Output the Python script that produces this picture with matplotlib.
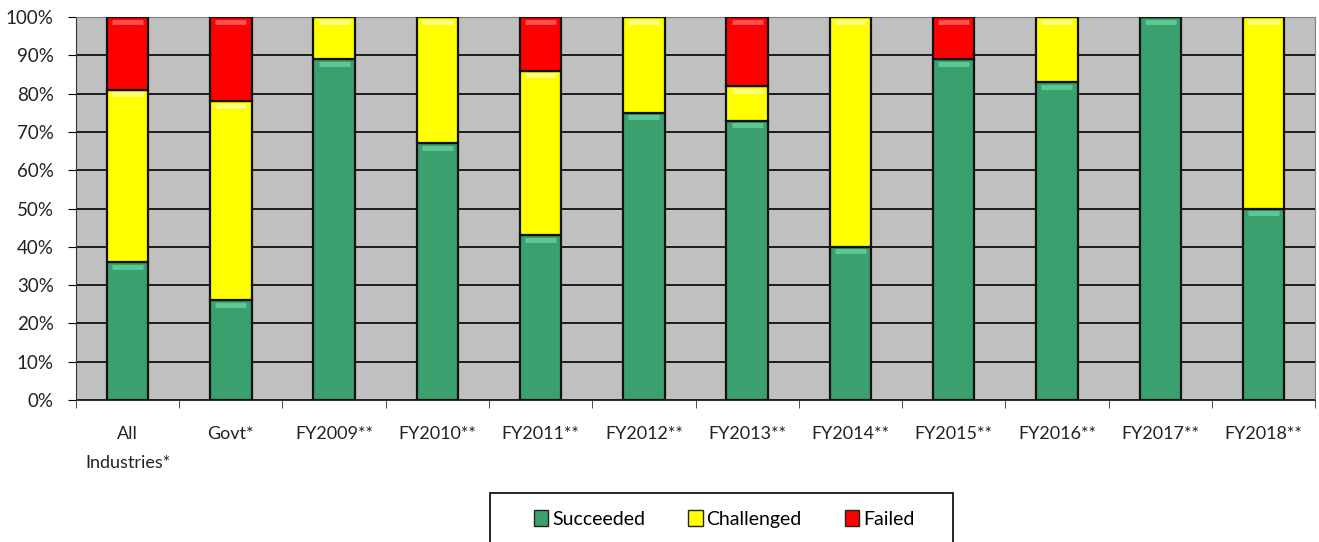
import numpy as np
import matplotlib
matplotlib.use("Agg")
import matplotlib.pyplot as plt
from matplotlib.ticker import MultipleLocator, PercentFormatter
from matplotlib.patches import Patch, Rectangle

# data (percent of projects)
categories = ["All\nIndustries*", "Govt*", "FY2009**", "FY2010**", "FY2011**", "FY2012**",
              "FY2013**", "FY2014**", "FY2015**", "FY2016**", "FY2017**", "FY2018**"]
succeeded = [36, 26, 89, 67, 43, 75, 73, 40, 89, 83, 100, 50]
challenged = [45, 52, 11, 33, 43, 25, 9, 60, 0, 17, 0, 50]
failed = [19, 22, 0, 0, 14, 0, 18, 0, 11, 0, 0, 0]

plt.rcParams['font.family'] = ['Lato', 'DejaVu Sans']

fig = plt.figure(figsize=(13.19, 5.42), dpi=100)
ax = fig.add_axes([0.0576, 0.262, 0.9394, 0.7064])
ax.set_facecolor("#c0c0c0")

x = np.arange(len(categories))
s = np.array(succeeded)
c = np.array(challenged)
f = np.array(failed)

colors = {"Succeeded": "#3aa06e", "Challenged": "#ffff00", "Failed": "#ff0000"}
w = 0.4
kw = dict(width=w, edgecolor="#111111", linewidth=1.6, zorder=3)
ax.bar(x, s, color=colors["Succeeded"], **kw)
ax.bar(x, c, bottom=s, color=colors["Challenged"], **kw)
ax.bar(x, f, bottom=s + c, color=colors["Failed"], **kw)

# light top band to hint at the bevel of the original bars
for vals, base, col in [(s, 0, "#5cc892"), (c, s, "#ffff80"), (f, s + c, "#ff5050")]:
    tops = np.asarray(base) + vals
    for xi, t, v in zip(x, tops, vals):
        if v > 0:
            ax.plot([xi - w / 2 + 0.05, xi + w / 2 - 0.05], [t - 1.2, t - 1.2],
                    color=col, lw=3.5, zorder=4, solid_capstyle="butt")

ax.set_ylim(0, 100)
ax.set_xlim(-0.5, len(categories) - 0.5)
ax.yaxis.set_major_locator(MultipleLocator(10))
ax.yaxis.set_major_formatter(PercentFormatter(decimals=0))
ax.grid(axis="y", color="black", linewidth=1.2, zorder=1)
ax.set_axisbelow(True)

ax.set_xticks(x)
ax.set_xticklabels(categories, fontsize=13, linespacing=1.95, va="top", color="#222222")
ax.set_xticks(np.arange(-0.5, len(categories)), minor=True)
ax.tick_params(axis="x", which="major", length=0, pad=19)
ax.tick_params(axis="x", which="minor", length=6, direction="out", color="#333333")
ax.tick_params(axis="y", labelsize=13.5, length=6, direction="out", pad=10,
               labelcolor="#222222")

for side in ["top", "right"]:
    ax.spines[side].set_color("#808080")
ax.spines["left"].set_color("#333333")
ax.spines["bottom"].set_color("#333333")

# legend box runs off the bottom edge like in the original
W, H = fig.get_size_inches() * fig.dpi
fig.patches.append(Rectangle((490 / W, -0.05), 463 / W, 0.05 + (542 - 493) / H,
                             transform=fig.transFigure, facecolor="white",
                             edgecolor="black", linewidth=1.2, zorder=0))

handles = [Patch(facecolor=v, edgecolor="#222222", label=k) for k, v in colors.items()]
leg = fig.legend(handles=handles, loc="center", bbox_to_anchor=(0.549, 1 - 519 / H),
                 ncol=3, fontsize=14, frameon=False,
                 handlelength=0.75, handleheight=0.85, handletextpad=0.2, columnspacing=2.2)

fig.savefig("out.png", dpi=100)
